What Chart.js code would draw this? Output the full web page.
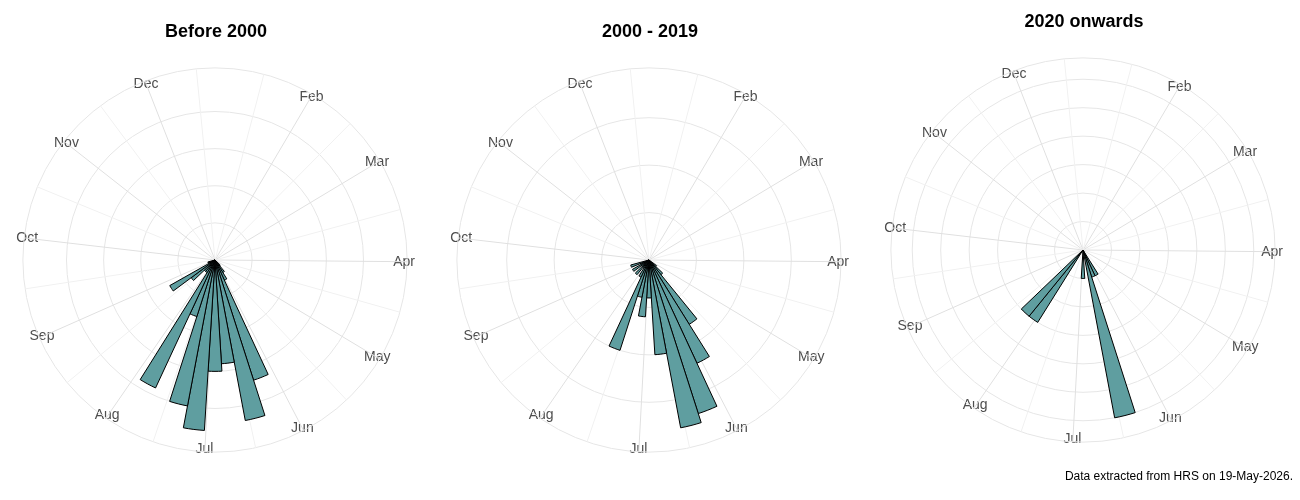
<!DOCTYPE html>
<html lang="en">
<head>
<meta charset="UTF-8">
<title>Season of occurrence</title>
<script src="https://cdn.jsdelivr.net/npm/chart.js"></script>
<style>
  body { margin: 0; background: #fff; }
  #wrap { position: relative; width: 1300px; height: 500px; overflow: hidden; }
  .panel { position: absolute; }
  #caption { position: absolute; right: 7px; top: 469px; font: 12px "Liberation Sans", Arial, sans-serif; color: #000; }
</style>
</head>
<body>
<div id="wrap">
  <canvas id="c1" class="panel" width="432" height="500" style="left:0px;top:0px"></canvas>
  <canvas id="c2" class="panel" width="432" height="500" style="left:434px;top:0px"></canvas>
  <canvas id="c3" class="panel" width="432" height="500" style="left:868px;top:-10px"></canvas>
  <div id="caption">Data extracted from HRS on 19-May-2026.</div>
</div>
<script>
// month axis
const monthNames = ['Jan', 'Feb', 'Mar', 'Apr', 'May', 'Jun', 'Jul', 'Aug', 'Sep', 'Oct', 'Nov', 'Dec'];
const monthStartDay = [1, 32, 60, 91, 121, 152, 182, 213, 244, 274, 305, 335, 366];

// weekly bins (start day of year)
const weekStartDay = [126, 133, 140, 147, 154, 161, 168, 175, 182, 189, 196, 203, 210, 217, 224, 231, 238, 245];

// counts per week
const before2000     = [0, 1, 2, 3, 17, 22, 14, 15, 23, 20, 8, 19, 2, 2, 4, 7, 1, 1];
const from2000to2019 = [1, 2, 8, 12, 17, 18, 10, 4, 6, 4, 10, 2, 1, 2, 1, 2, 1, 2];
const from2020       = [0, 0, 0, 1, 1, 6, 0, 1, 0, 0, 0, 0, 3, 3, 0, 0, 0, 0];

const panelTitles = ['Before 2000', '2000 - 2019', '2020 onwards'];
const radialMax = [23, 18, 6];
const radialStep = [5, 5, 1];

// theta range of the polar axis, in days
const thetaStart = 2;
const thetaSpan = 354;
const perDay = 2;                 // slots per day
const degPerDay = 360 / thetaSpan;
const binShift = 0.5;

const labelFont = { family: '"Liberation Sans", Arial, sans-serif', size: 14, lineHeight: 0.01 };
const nSlots = thetaSpan * perDay;
const slotKind = new Array(nSlots).fill(0);   // 1 major, 2 minor
const slotLabels = new Array(nSlots).fill('');
const slotPad = new Array(nSlots).fill(-80);

for (let m = 0; m < 12; m++) {
  const j = (monthStartDay[m] - thetaStart) * perDay;
  if (j >= 0 && j < nSlots) slotKind[j] = 1;
  const mid = Math.round(((monthStartDay[m] + monthStartDay[m + 1]) / 2 - thetaStart) * perDay);
  if (mid >= 0 && mid < nSlots) slotKind[mid] = 2;
}

// put each month name in the slot where Chart.js will centre it closest to its spoke end
(function placeLabels(R, Rtext) {
  const mctx = document.createElement('canvas').getContext('2d');
  mctx.font = labelFont.size + 'px ' + labelFont.family;
  for (let m = 0; m < 12; m++) {
    const jm = (monthStartDay[m] - thetaStart) * perDay;
    if (jm < 0 || jm >= nSlots) continue;
    const w = mctx.measureText(monthNames[m]).width;
    const th = jm / nSlots * 2 * Math.PI;
    const tx = Rtext * Math.sin(th), ty = -Rtext * Math.cos(th);
    let best = null;
    for (let d = -30; d <= 30; d++) {
      const j = (jm + d + nSlots) % nSlots;
      if (slotLabels[j]) continue;
      const phi = j / nSlots * 2 * Math.PI;
      const a = Math.round(phi * 180 / Math.PI);
      const sx = (a === 0 || a === 180) ? 0 : (a < 180 ? w / 2 : -w / 2);
      const ux = Math.sin(phi), uy = -Math.cos(phi);
      const dist = (tx - sx) * ux + ty * uy;
      const err = Math.hypot(dist * ux + sx - tx, dist * uy - ty);
      if (!best || err < best.err) best = { j, p: dist - R, err };
    }
    slotLabels[best.j] = monthNames[m];
    slotPad[best.j] = best.p;
  }
})(190, 187);

function makePanel(id, title, counts, rMax, step) {
  const top = rMax * 1.125;
  const breaks = [];
  for (let v = 0; v <= rMax; v += step) breaks.push(v);
  breaks.push(top);
  const firstAngle = (weekStartDay[0] + binShift - thetaStart) * degPerDay;

  new Chart(document.getElementById(id), {
    type: 'polarArea',
    data: {
      labels: slotLabels,
      datasets: [{
        data: [0].concat(counts),
        angle: ctx => ctx.dataIndex === 0 ? firstAngle : 7 * degPerDay,
        backgroundColor: '#5F9EA0',
        borderColor: '#000000',
        borderWidth: ctx => (ctx.raw > 0 ? 1 : 0),
        borderJoinStyle: 'miter'
      }]
    },
    options: {
      responsive: false,
      devicePixelRatio: 1,
      animation: false,
      layout: { padding: { left: 16, right: 16, top: 0, bottom: 25 } },
      plugins: {
        legend: { display: false },
        tooltip: { enabled: false },
        title: {
          display: true,
          text: title,
          color: '#000',
          font: { family: '"Liberation Sans", Arial, sans-serif', size: 18, weight: 'bold' },
          padding: { top: 21, bottom: 4 }
        }
      },
      scales: {
        r: {
          min: 0,
          max: top,
          startAngle: 0,
          afterBuildTicks: s => { s.ticks = breaks.map(v => ({ value: v })); },
          ticks: { display: false },
          grid: { circular: true, color: '#e6e6e6', lineWidth: 1 },
          angleLines: {
            display: true,
            color: ctx => slotKind[ctx.index] === 1 ? '#e0e0e0' : '#f1f1f1',
            lineWidth: ctx => slotKind[ctx.index] ? 1 : 0
          },
          pointLabels: {
            display: true,
            color: '#4d4d4d',
            font: labelFont,
            padding: ctx => slotPad[ctx.index]
          }
        }
      }
    }
  });
}

makePanel('c1', panelTitles[0], before2000, radialMax[0], radialStep[0]);
makePanel('c2', panelTitles[1], from2000to2019, radialMax[1], radialStep[1]);
makePanel('c3', panelTitles[2], from2020, radialMax[2], radialStep[2]);
</script>
</body>
</html>
